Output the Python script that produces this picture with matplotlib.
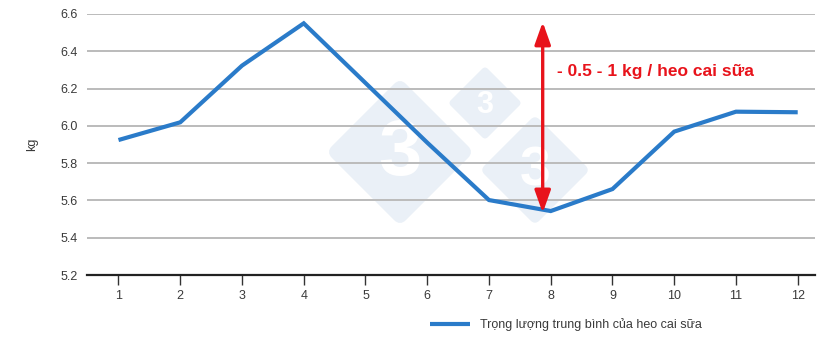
import matplotlib
matplotlib.use("Agg")
import matplotlib.pyplot as plt
from matplotlib.patches import FancyBboxPatch
from matplotlib.transforms import Affine2D

plt.rcParams['font.family'] = ['Liberation Sans', 'DejaVu Sans']

# data
months = [1, 2, 3, 4, 5, 6, 7, 8, 9, 10, 11, 12]
weight = [5.924, 6.019, 6.323, 6.55, 6.23, 5.91, 5.602, 5.543, 5.661, 5.969, 6.076, 6.073]
yticks = [5.2, 5.4, 5.6, 5.8, 6.0, 6.2, 6.4, 6.6]
series_label = "Trọng lượng trung bình của heo cai sữa"
ylabel = "kg"
note = "- 0.5 - 1 kg / heo cai sữa"
arrow_x = 7.87
arrow_top = 6.557
arrow_bottom = 5.533

W, H = 820, 353
fig = plt.figure(figsize=(W / 100, H / 100), dpi=100)
ax = fig.add_axes([87 / W, 1 - 275 / H, (815 - 87) / W, (275 - 14) / H])

# watermark (three rounded diamonds, pixel coords from top-left), behind the grid
pix = Affine2D().scale(1 / W, -1 / H).translate(0, 1) + fig.transFigure
for cx, cy, d, fs in [(400, 152, 74, 56), (485, 103, 37, 22), (535, 170, 55, 40)]:
    s = d * 2 ** 0.5
    p = FancyBboxPatch((cx - s / 2, cy - s / 2), s, s,
                       boxstyle="round,pad=0,rounding_size=%f" % (s * 0.08),
                       transform=Affine2D().rotate_deg_around(cx, cy, 45) + pix,
                       facecolor='#eaf0f7', edgecolor='none', zorder=0.1, clip_on=False)
    ax.add_patch(p)
    ax.text(cx, cy + 2, "3", transform=pix, fontsize=fs, fontweight='bold', color='white',
            ha='center', va='center', zorder=0.2, clip_on=False)

ax.plot(months, weight, color='#2a7bc9', lw=3, solid_capstyle='butt',
        solid_joinstyle='miter', label=series_label, zorder=3)

ax.set_xlim(0.49, 12.28)
ax.set_ylim(5.2, 6.6)
ax.set_yticks(yticks)
ax.set_yticklabels(["%.1f" % v for v in yticks])
ax.set_xticks(months)
ax.grid(axis='y', color='#bbbbbb', lw=1.4)
ax.set_axisbelow(True)
for sp in ['top', 'right', 'left']:
    ax.spines[sp].set_visible(False)
ax.spines['bottom'].set_color('#222222')
ax.spines['bottom'].set_linewidth(1.6)
ax.tick_params(axis='y', length=0, pad=7, labelsize=9, labelcolor='#3a3a3a')
ax.tick_params(axis='x', length=7, width=1, color='#333333', pad=4,
               labelsize=9, labelcolor='#3a3a3a')
ax.set_ylabel(ylabel, fontsize=9, color='#3a3a3a', labelpad=16)

ax.annotate('', xy=(arrow_x, arrow_top), xytext=(arrow_x, arrow_bottom),
            arrowprops=dict(arrowstyle='<|-|>,head_length=0.9,head_width=0.32',
                            mutation_scale=15, color='#e8131b', lw=2.4,
                            shrinkA=0, shrinkB=0), zorder=4)
ax.text(8.1, 6.294, note, color='#e8131b', fontsize=12.5, fontweight='bold',
        va='center', ha='left', zorder=4)

fig.legend(loc='center left', bbox_to_anchor=(430 / W, 1 - 325 / H), frameon=False,
           borderpad=0, borderaxespad=0, handlelength=3.2, handletextpad=0.8,
           fontsize=9, labelcolor='#3a3a3a')

fig.savefig("out.png", dpi=100)
